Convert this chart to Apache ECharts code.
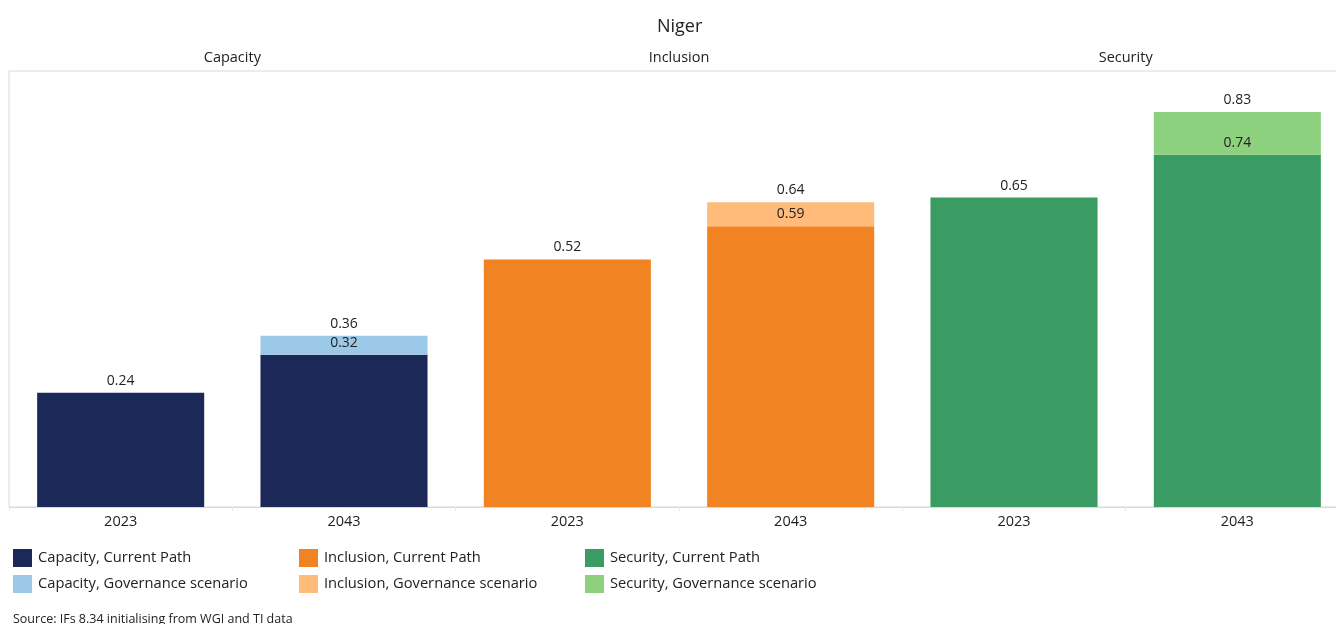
<!DOCTYPE html>
<html><head><meta charset="utf-8">
<script src="https://cdn.jsdelivr.net/npm/echarts@6/dist/echarts.min.js"></script>
<style>html,body{margin:0;padding:0;background:#fff}#c{width:1336px;height:624px}</style>
</head><body><div id="c"></div>
<script>
const categories = ['2023','2043','2023','2043','2023','2043'];
const groups = ['Capacity','Inclusion','Security'];
const seriesNames = ['Capacity, Current Path','Capacity, Governance scenario','Inclusion, Current Path','Inclusion, Governance scenario','Security, Current Path','Security, Governance scenario'];
const capacityCurrent = [0.24, 0.32, null, null, null, null];
const capacityGov =     [null, 0.36, null, null, null, null];
const inclusionCurrent = [null, null, 0.52, 0.59, null, null];
const inclusionGov =     [null, null, null, 0.64, null, null];
const securityCurrent = [null, null, null, null, 0.65, 0.74];
const securityGov =     [null, null, null, null, null, 0.83];
const colors = ['#1b2858','#9dc9e9','#f28322','#ffbb7a','#3a9c63','#8dd17e'];

const font = 'Open Sans';
function inc(gov, cur){ return gov.map((g,i)=> g==null?null:+(g-(cur[i]||0)).toFixed(4)); }
const pairs = [[capacityCurrent,capacityGov],[inclusionCurrent,inclusionGov],[securityCurrent,securityGov]];
const series = [];
const lbl = {show:true,position:'top',distance:5,fontFamily:font,fontSize:14,color:'#222'};
pairs.forEach((p,k)=>{
  series.push({name:seriesNames[2*k],type:'bar',stack:'s',barWidth:'74.8%',data:p[0],
    itemStyle:{color:colors[2*k]},
    label:Object.assign({formatter:o=>o.value==null?'':o.value.toFixed(2)},lbl)});
  const totals = p[1];
  series.push({name:seriesNames[2*k+1],type:'bar',stack:'s',barWidth:'74.8%',data:inc(p[1],p[0]),
    itemStyle:{color:colors[2*k+1]},
    label:Object.assign({formatter:o=>totals[o.dataIndex]==null?'':totals[o.dataIndex].toFixed(2)},lbl)});
});
const legendCommon = {orient:'vertical',top:549,padding:0,itemWidth:19,itemHeight:18,itemGap:8,icon:'rect',
  textStyle:{fontFamily:font,fontSize:14.7,color:'#222',padding:[0,0,0,1]}};
const chart = echarts.init(document.getElementById('c'));
chart.setOption({
  animation:false,
  title:{text:'Niger',left:652,top:13,textStyle:{fontFamily:font,fontSize:18,fontWeight:'normal',color:'#222'}},
  grid:{left:9,width:1340,top:71,height:436,outerBoundsMode:'none',containLabel:false,show:true,borderColor:'#d9d9d9',borderWidth:1},
  legend:[
    Object.assign({left:13,data:seriesNames.slice(0,2)},legendCommon),
    Object.assign({left:299,data:seriesNames.slice(2,4)},legendCommon),
    Object.assign({left:585,data:seriesNames.slice(4,6)},legendCommon)
  ],
  xAxis:[
    {type:'category',data:categories,position:'bottom',
     axisLine:{lineStyle:{color:'#d9d9d9'}},axisTick:{show:true,length:4,lineStyle:{color:'#e6e6e6'}},
     axisLabel:{margin:7,fontFamily:font,fontSize:14.5,color:'#222'}},
    {type:'category',data:groups,position:'top',
     axisLine:{show:false},axisTick:{show:false},
     axisLabel:{margin:6,fontFamily:font,fontSize:14.5,color:'#222'}}
  ],
  yAxis:{type:'value',min:0,max:0.916,show:false,splitLine:{show:false}},
  graphic:[{type:'text',left:13,top:613,style:{text:'Source: IFs 8.34 initialising from WGI and TI data',fontFamily:font,fontSize:12.5,fill:'#222'}}],
  series:series
});
</script></body></html>
